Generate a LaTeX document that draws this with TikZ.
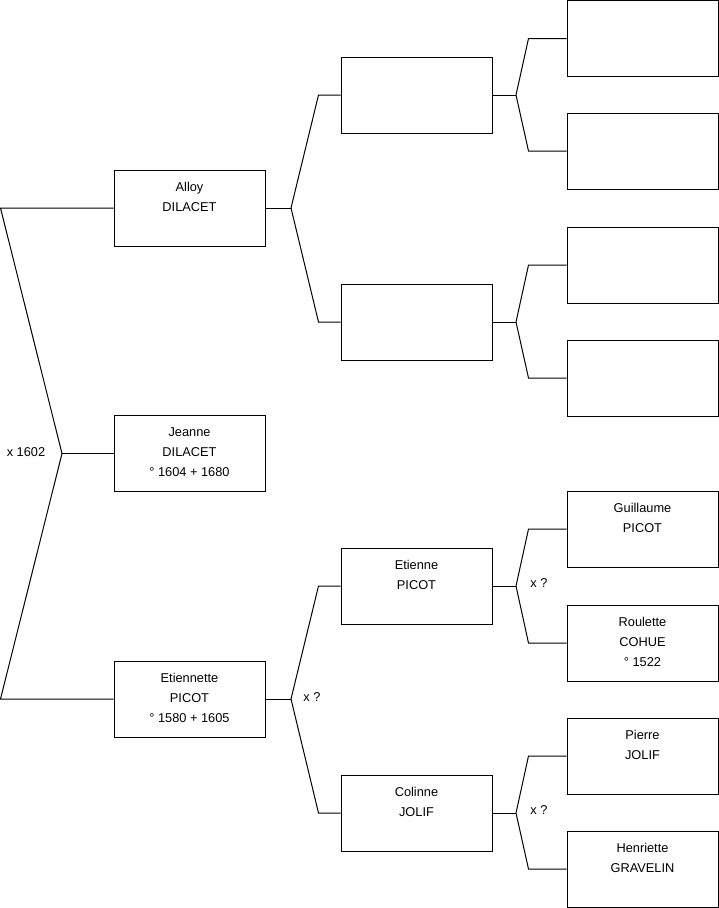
\documentclass[tikz,border=0pt]{standalone}
\usepackage{fontspec}
\setmainfont{Liberation Sans}
\newcommand{\pinfo}[1]{\parbox[c][76pt][t]{151pt}{\centering\rule{0pt}{21pt}#1}}
\begin{document}
\begin{tikzpicture}[x=1pt,y=-1pt,
  person/.style={draw=black, line width=1pt, minimum width=151pt, minimum height=76pt, inner sep=0pt, font=\fontsize{12.8}{20}\selectfont},
  conn/.style={draw=black, line width=1pt},
  marr/.style={font=\fontsize{12.8}{15}\selectfont, inner sep=0pt}]
\useasboundingbox (0,0) rectangle (719,908);
% generation 1
\node[person] (alloy) at (189.5,208) {\pinfo{Alloy\\DILACET}};
\node[person] (jeanne) at (189.5,453.5) {\pinfo{Jeanne\\DILACET\\° 1604 + 1680}};
\node[person] (etiennette) at (189.5,699) {\pinfo{Etiennette\\PICOT\\° 1580 + 1605}};
% generation 2
\node[person] (g2a) at (416.5,95) {\pinfo{}};
\node[person] (g2b) at (416.5,322) {\pinfo{}};
\node[person] (etienne) at (416.5,586) {\pinfo{Etienne\\PICOT}};
\node[person] (colinne) at (416.5,813) {\pinfo{Colinne\\JOLIF}};
% generation 3
\node[person] (g3a) at (642.5,38.5) {\pinfo{}};
\node[person] (g3b) at (642.5,151) {\pinfo{}};
\node[person] (g3c) at (642.5,265) {\pinfo{}};
\node[person] (g3d) at (642.5,378) {\pinfo{}};
\node[person] (guillaume) at (642.5,529) {\pinfo{Guillaume\\PICOT}};
\node[person] (roulette) at (642.5,643) {\pinfo{Roulette\\COHUE\\° 1522}};
\node[person] (pierre) at (642.5,756) {\pinfo{Pierre\\JOLIF}};
\node[person] (henriette) at (642.5,869) {\pinfo{Henriette\\GRAVELIN}};
% fork vertices
\coordinate (L) at (0.5,0);
\coordinate (root) at (62,453.5);
\coordinate (fa) at (291,208);
\coordinate (fe) at (291,699);
\coordinate (f2a) at (516,95);
\coordinate (f2b) at (516,322);
\coordinate (f2c) at (516,586);
\coordinate (f2d) at (516,813);
% root fork
\draw[conn] (jeanne.west) -- (root);
\draw[conn] (root) -- (alloy.west -| L) -- (alloy.west);
\draw[conn] (root) -- (etiennette.west -| L) -- (etiennette.west);
% gen1 to gen2
\draw[conn] (alloy.east) -- (fa);
\draw[conn] (fa) -- ([xshift=-22pt]g2a.west) -- (g2a.west);
\draw[conn] (fa) -- ([xshift=-22pt]g2b.west) -- (g2b.west);
\draw[conn] (etiennette.east) -- (fe);
\draw[conn] (fe) -- ([xshift=-22pt]etienne.west) -- (etienne.west);
\draw[conn] (fe) -- ([xshift=-22pt]colinne.west) -- (colinne.west);
% gen2 to gen3
\draw[conn] (g2a.east) -- (f2a);
\draw[conn] (f2a) -- ([xshift=-38pt]g3a.west) -- (g3a.west);
\draw[conn] (f2a) -- ([xshift=-38pt]g3b.west) -- (g3b.west);
\draw[conn] (g2b.east) -- (f2b);
\draw[conn] (f2b) -- ([xshift=-38pt]g3c.west) -- (g3c.west);
\draw[conn] (f2b) -- ([xshift=-38pt]g3d.west) -- (g3d.west);
\draw[conn] (etienne.east) -- (f2c);
\draw[conn] (f2c) -- ([xshift=-38pt]guillaume.west) -- (guillaume.west);
\draw[conn] (f2c) -- ([xshift=-38pt]roulette.west) -- (roulette.west);
\draw[conn] (colinne.east) -- (f2d);
\draw[conn] (f2d) -- ([xshift=-38pt]pierre.west) -- (pierre.west);
\draw[conn] (f2d) -- ([xshift=-38pt]henriette.west) -- (henriette.west);
% marriage labels
\node[marr] (m1) at (26,452) {x 1602};
\node[marr] (m2) at (312,697) {x ?};
\node[marr] (m3) at (539,583) {x ?};
\node[marr] (m4) at (539,810) {x ?};
\end{tikzpicture}
\end{document}
